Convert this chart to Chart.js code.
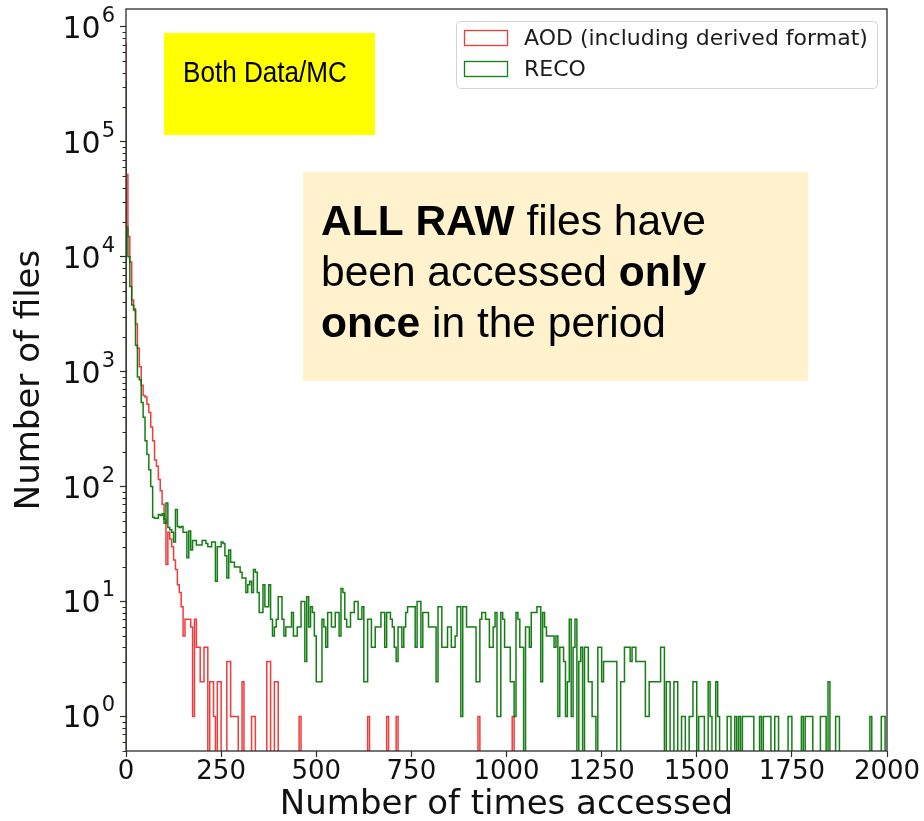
<!DOCTYPE html>
<html>
<head>
<meta charset="utf-8">
<script src="https://cdn.jsdelivr.net/npm/chart.js@4.4.1/dist/chart.umd.min.js"></script>
<style>
  html, body { margin: 0; padding: 0; background: #fff; }
  canvas { display: block; }
</style>
</head>
<body>
<canvas id="accessChart" width="924" height="821"></canvas>
<script>
// histogram binning: 400 bins of 5 accesses each, 0..2000
const binWidth = 5;
const xTicks = [0, 250, 500, 750, 1000, 1250, 1500, 1750, 2000];
const yDecades = [1, 10, 100, 1000, 10000, 100000, 1000000];
const seriesLabels = ["AOD (including derived format)", "RECO"];

// files per bin, AOD (including derived formats)
const aodCounts = [
  740000, 52000, 15000, 9000, 4200, 3400, 2600, 1600, 1100, 760, 620, 600, 520, 440, 330, 250, 170, 150, 115, 92,
  70, 52, 21, 40, 35, 30, 23, 19, 14, 12, 9, 5, 7, 7, 7, 6, 1, 7, 4, 4,
  2, 2, 4, 4, 0, 2, 2, 1, 0, 2, 2, 0, 0, 0, 3, 3, 1, 1, 1, 1,
  0, 0, 2, 0, 0, 0, 0, 1, 1, 0, 0, 0, 0, 0, 0, 3, 3, 0, 0, 2,
  2, 0, 0, 0, 0, 0, 0, 0, 0, 0, 0, 0, 1, 0, 0, 0, 0, 0, 0, 0,
  0, 0, 0, 0, 0, 0, 0, 0, 0, 0, 0, 0, 0, 0, 0, 0, 0, 0, 0, 0,
  0, 0, 0, 0, 0, 0, 0, 0, 1, 0, 0, 0, 0, 0, 0, 0, 0, 0, 1, 0,
  0, 0, 0, 1, 0, 0, 0, 0, 0, 0, 0, 0, 0, 0, 0, 0, 0, 0, 0, 0,
  0, 0, 0, 0, 0, 0, 0, 0, 0, 0, 0, 0, 0, 0, 0, 0, 0, 0, 0, 0,
  0, 0, 0, 0, 0, 0, 1, 0, 0, 0, 0, 0, 0, 0, 0, 0, 0, 0, 0, 0,
  0, 0, 0, 0, 1, 0, 0, 0, 0, 0, 0, 0, 0, 0, 0, 0, 0, 0, 0, 0,
  0, 0, 0, 0, 0, 0, 0, 0, 0, 0, 0, 0, 0, 0, 0, 0, 0, 0, 0, 0,
  0, 0, 0, 0, 0, 0, 0, 0, 0, 0, 0, 0, 0, 0, 0, 0, 0, 0, 0, 0,
  0, 0, 0, 0, 0, 0, 0, 0, 0, 0, 0, 0, 0, 0, 0, 0, 0, 0, 0, 0,
  0, 0, 0, 0, 0, 0, 0, 0, 0, 0, 0, 0, 0, 0, 0, 0, 0, 0, 0, 0,
  0, 0, 0, 0, 0, 0, 0, 0, 0, 0, 0, 0, 0, 0, 0, 0, 0, 0, 0, 0,
  0, 0, 0, 0, 0, 0, 0, 0, 0, 0, 0, 0, 0, 0, 0, 0, 0, 0, 0, 0,
  0, 0, 0, 0, 0, 0, 0, 0, 0, 0, 0, 0, 0, 0, 0, 0, 0, 0, 0, 0,
  0, 0, 0, 0, 0, 0, 0, 0, 0, 0, 0, 0, 0, 0, 0, 0, 0, 0, 0, 0,
  0, 0, 0, 0, 0, 0, 0, 0, 0, 0, 0, 0, 0, 0, 0, 0, 0, 0, 0, 0
];

// files per bin, RECO
const recoCounts = [
  340000, 18000, 10000, 5500, 3800, 3500, 1700, 900, 850, 540, 400, 250, 190, 140, 100, 54, 53, 53, 57, 56,
  58, 48, 72, 44, 42, 40, 33, 63, 45, 44, 45, 40, 40, 24, 41, 28, 34, 34, 31, 31,
  31, 34, 34, 32, 30, 30, 33, 33, 15, 30, 30, 33, 32, 25, 16, 28, 22, 22, 20, 20,
  20, 18, 16, 16, 12, 14, 15, 12, 19, 18, 12, 8, 8, 14, 9, 9, 14, 7, 5, 6,
  7, 11, 11, 7, 5, 6, 6, 6, 8, 5, 5, 6, 6, 10, 10, 3, 11, 6, 9, 8,
  5, 2, 2, 2, 7, 6, 4, 8, 8, 6, 6, 8, 8, 5, 13, 12, 7, 6, 6, 8,
  8, 10, 10, 7, 7, 9, 2, 2, 7, 7, 4, 4, 6, 6, 6, 8, 8, 4, 8, 8,
  7, 6, 4, 3, 6, 6, 4, 6, 8, 9, 9, 9, 9, 4, 10, 10, 4, 8, 8, 8,
  6, 6, 6, 6, 2, 9, 9, 4, 4, 4, 6, 6, 4, 4, 5, 9, 9, 1, 9, 9,
  6, 6, 6, 6, 6, 2, 2, 7, 8, 8, 7, 7, 4, 4, 6, 8, 1, 1, 8, 7,
  4, 4, 4, 2, 2, 1, 8, 7, 4, 4, 0, 6, 6, 4, 8, 8, 8, 9, 9, 2,
  8, 6, 5, 5, 5, 5, 4, 5, 1, 4, 4, 3, 1, 2, 7, 1, 4, 7, 0, 3,
  4, 0, 4, 4, 2, 2, 1, 1, 0, 4, 4, 2, 3, 3, 3, 3, 3, 3, 3, 0,
  0, 2, 2, 4, 4, 4, 3, 4, 4, 3, 3, 3, 3, 3, 1, 1, 2, 2, 2, 2,
  2, 2, 4, 4, 0, 2, 2, 0, 0, 2, 2, 0, 0, 1, 1, 0, 0, 1, 1, 2,
  2, 0, 1, 1, 1, 0, 0, 2, 1, 0, 0, 2, 1, 0, 0, 0, 0, 1, 1, 0,
  0, 1, 0, 1, 0, 1, 1, 1, 1, 1, 1, 0, 0, 0, 1, 0, 1, 1, 1, 1,
  0, 0, 1, 1, 0, 0, 0, 0, 0, 1, 1, 0, 0, 0, 0, 0, 1, 0, 1, 1,
  1, 1, 0, 0, 0, 0, 1, 1, 1, 0, 2, 0, 0, 0, 1, 1, 0, 0, 0, 0,
  0, 0, 0, 0, 0, 0, 0, 0, 0, 0, 0, 0, 1, 0, 0, 0, 0, 0, 1, 1
];

const FONT = "'DejaVu Sans', sans-serif";
const SANS = "'Liberation Sans', Arial, sans-serif";
const AOD_COLOR = "rgba(236, 32, 32, 0.88)";
const RECO_COLOR = "rgba(0, 115, 0, 0.92)";
const AXIS_COLOR = "#2b2b2b";

// empty bins sit far below the log axis so the step outline drops out of view
const EMPTY_LEVEL = 1e-3;

function histogramOutline(counts) {
  const pts = [{ x: 0, y: EMPTY_LEVEL }];
  counts.forEach((c, i) => pts.push({ x: i * binWidth, y: c > 0 ? c : EMPTY_LEVEL }));
  pts.push({ x: counts.length * binWidth, y: EMPTY_LEVEL });
  return pts;
}

// frame, minor log ticks and 10^n labels
const axesDecor = {
  id: "axesDecor",
  afterDatasetsDraw(chart) {
    const { ctx, chartArea: a, scales: { y } } = chart;
    ctx.save();
    ctx.strokeStyle = AXIS_COLOR;
    ctx.lineWidth = 1.3;
    ctx.strokeRect(a.left, a.top, a.right - a.left, a.bottom - a.top);

    ctx.lineWidth = 1;
    for (let e = -1; e <= 6; e++) {
      for (let k = 2; k <= 9; k++) {
        const v = k * Math.pow(10, e);
        if (v < y.min || v > y.max) continue;
        const py = Math.round(y.getPixelForValue(v)) + 0.5;
        ctx.beginPath();
        ctx.moveTo(a.left - 3.5, py);
        ctx.lineTo(a.left, py);
        ctx.stroke();
      }
    }

    ctx.fillStyle = "#111";
    ctx.textBaseline = "alphabetic";
    yDecades.forEach(v => {
      const py = y.getPixelForValue(v);
      const exp = String(Math.round(Math.log10(v)));
      const right = a.left - 11;
      ctx.font = "21px " + FONT;
      const ew = ctx.measureText(exp).width;
      ctx.textAlign = "right";
      ctx.fillText(exp, right, py - 5);
      ctx.font = "30px " + FONT;
      ctx.fillText("10", right - ew - 1, py + 11);
    });
    ctx.restore();
  },
  afterDraw(chart) {
    const { ctx, chartArea: a } = chart;
    ctx.save();

    // legend
    const lx = a.right - 431, ly = a.top + 12, lw = 421, lh = 67;
    ctx.fillStyle = "rgba(255,255,255,0.85)";
    ctx.strokeStyle = "#d4d4d4";
    ctx.lineWidth = 1;
    ctx.beginPath();
    ctx.roundRect(lx + 0.5, ly + 0.5, lw, lh, 4);
    ctx.fill();
    ctx.stroke();
    ctx.font = "22px " + FONT;
    ctx.textAlign = "left";
    ctx.textBaseline = "middle";
    chart.data.datasets.forEach((ds, i) => {
      const ry = ly + 9 + i * 31;
      ctx.fillStyle = "#fff";
      ctx.strokeStyle = ds.borderColor;
      ctx.lineWidth = 1.3;
      ctx.fillRect(lx + 8, ry, 44, 16);
      ctx.strokeRect(lx + 8.5, ry + 0.5, 43, 15);
      ctx.fillStyle = "#1c1c1c";
      ctx.fillText(ds.label, lx + 68, ry + 9);
    });

    // "Both Data/MC" tag
    ctx.fillStyle = "#ffff00";
    ctx.fillRect(164, 33, 211, 102);
    ctx.fillStyle = "#000";
    ctx.textBaseline = "alphabetic";
    ctx.save();
    ctx.translate(183, 82);
    ctx.scale(0.9, 1);
    ctx.font = "29px " + SANS;
    ctx.fillText("Both Data/MC", 0, 0);
    ctx.restore();

    // RAW access note
    ctx.fillStyle = "#fff2cc";
    ctx.fillRect(303, 172, 505, 209);
    const lines = [
      [["ALL RAW", true], [" files have", false]],
      [["been accessed ", false], ["only", true]],
      [["once", true], [" in the period", false]]
    ];
    ctx.fillStyle = "#000";
    lines.forEach((parts, li) => {
      let x = 321;
      parts.forEach(([txt, bold]) => {
        ctx.font = (bold ? "bold " : "") + "42.5px " + SANS;
        ctx.fillText(txt, x, 235 + li * 51);
        x += ctx.measureText(txt).width;
      });
    });
    ctx.restore();
  }
};

new Chart(document.getElementById("accessChart"), {
  type: "line",
  data: {
    datasets: [
      {
        label: seriesLabels[0],
        data: histogramOutline(aodCounts),
        borderColor: AOD_COLOR,
        borderWidth: 1.5,
        stepped: "after",
        pointRadius: 0,
        fill: false,
        order: 1
      },
      {
        label: seriesLabels[1],
        data: histogramOutline(recoCounts),
        borderColor: RECO_COLOR,
        borderWidth: 1.5,
        stepped: "after",
        pointRadius: 0,
        fill: false,
        order: 0
      }
    ]
  },
  options: {
    responsive: false,
    animation: false,
    events: [],
    layout: { padding: { top: 9, right: 37, bottom: 0, left: 0 } },
    plugins: { legend: { display: false }, tooltip: { enabled: false } },
    scales: {
      x: {
        type: "linear",
        min: 0,
        max: 2000,
        afterBuildTicks: axis => { axis.ticks = xTicks.map(v => ({ value: v })); },
        afterFit: s => { s.height = 70; s.paddingLeft = 0; s.paddingRight = 0; },
        ticks: {
          callback: v => String(v),
          font: { family: FONT, size: 26 },
          color: "#111",
          padding: 0,
          maxRotation: 0,
          autoSkip: false
        },
        grid: { drawOnChartArea: false, drawTicks: true, tickLength: 6, tickColor: AXIS_COLOR, tickWidth: 1.2 },
        border: { display: false },
        title: {
          display: true,
          text: "Number of times accessed",
          font: { family: FONT, size: 34, lineHeight: 0.95 },
          color: "#111",
          padding: { top: 0, bottom: 0 }
        }
      },
      y: {
        type: "logarithmic",
        min: 0.5,
        max: 1.43e6,
        afterBuildTicks: axis => { axis.ticks = yDecades.map(v => ({ value: v })); },
        afterFit: s => { s.width = 126; s.paddingTop = 0; s.paddingBottom = 0; },
        ticks: { display: false },
        grid: { drawOnChartArea: false, drawTicks: true, tickLength: 6, tickColor: AXIS_COLOR, tickWidth: 1.2 },
        border: { display: false },
        title: {
          display: true,
          text: "Number of files",
          font: { family: FONT, size: 34 },
          color: "#111",
          padding: { top: 10, bottom: 0 }
        }
      }
    }
  },
  plugins: [axesDecor]
});
</script>
</body>
</html>
